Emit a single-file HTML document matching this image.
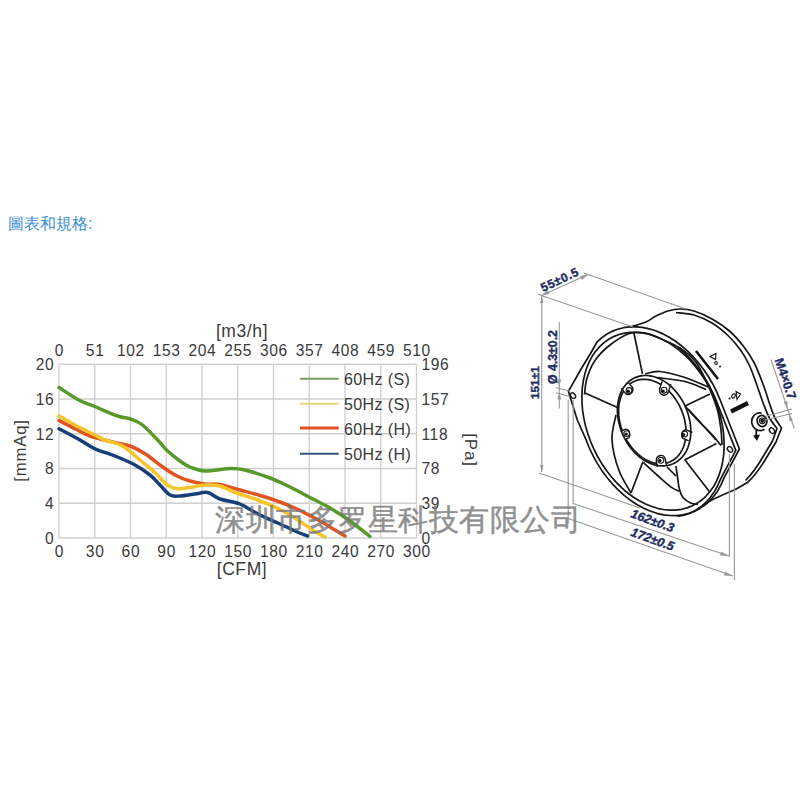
<!DOCTYPE html>
<html><head><meta charset="utf-8">
<style>
html,body{margin:0;padding:0;background:#fff;}
body{width:800px;height:800px;position:relative;overflow:hidden;font-family:"Liberation Sans",sans-serif;}
#title{position:absolute;white-space:nowrap;left:7.9px;top:214.1px;font-size:15.9px;color:#3a8fd4;}
svg{position:absolute;left:0;top:0;}
</style></head><body>
<div id="title">圖表和規格:</div>
<svg width="800" height="800" viewBox="0 0 800 800">
<path d="M59.00 364.25V538.0 M94.75 364.25V538.0 M130.50 364.25V538.0 M166.25 364.25V538.0 M202.00 364.25V538.0 M237.75 364.25V538.0 M273.50 364.25V538.0 M309.25 364.25V538.0 M345.00 364.25V538.0 M380.75 364.25V538.0 M416.50 364.25V538.0 M59 364.25H416.5 M59 399.00H416.5 M59 433.75H416.5 M59 468.50H416.5 M59 503.25H416.5 M59 538.00H416.5" stroke="#cfcfcf" stroke-width="1.3" fill="none"/>
<path d="M59.0 387.5 C62.3 389.6 72.8 396.8 78.8 400.0 C84.7 403.2 88.3 403.8 94.8 406.5 C101.2 409.2 111.5 413.9 117.5 416.0 C123.5 418.1 126.3 417.5 130.5 419.0 C134.7 420.5 137.6 421.1 142.5 425.0 C147.4 428.9 156.0 438.3 160.0 442.5 C164.0 446.7 163.2 446.9 166.5 450.0 C169.8 453.1 176.1 458.2 180.0 461.0 C183.9 463.8 185.8 465.3 190.0 467.0 C194.2 468.7 198.3 470.8 205.0 471.0 C211.7 471.2 223.3 468.7 230.0 468.5 C236.7 468.3 238.3 468.4 245.0 470.0 C251.7 471.6 262.5 475.2 270.0 478.0 C277.5 480.8 283.3 483.8 290.0 487.0 C296.7 490.2 303.3 494.0 310.0 497.5 C316.7 501.0 323.3 504.1 330.0 508.0 C336.7 511.9 343.3 516.2 350.0 521.0 C356.7 525.8 366.7 533.9 370.0 536.5" stroke="#579a2a" stroke-width="3.5" fill="none" stroke-linecap="round" stroke-linejoin="round"/>
<path d="M59.0 420.5 C61.7 421.9 69.8 426.2 75.0 428.8 C80.2 431.3 83.3 433.7 90.0 436.0 C96.7 438.3 108.3 440.8 115.0 442.5 C121.7 444.2 125.0 444.1 130.0 446.0 C135.0 447.9 140.0 450.6 145.0 453.8 C150.0 456.9 155.0 461.5 160.0 465.0 C165.0 468.5 170.0 472.3 175.0 475.0 C180.0 477.7 185.0 479.5 190.0 481.0 C195.0 482.5 200.0 483.4 205.0 484.0 C210.0 484.6 214.2 483.5 220.0 484.5 C225.8 485.5 233.3 488.2 240.0 490.0 C246.7 491.8 253.3 493.5 260.0 495.5 C266.7 497.5 273.3 499.5 280.0 502.0 C286.7 504.5 293.3 507.3 300.0 510.5 C306.7 513.7 314.2 517.8 320.0 521.0 C325.8 524.2 330.8 527.5 335.0 530.0 C339.2 532.5 343.3 535.0 345.0 536.0" stroke="#e2531f" stroke-width="3.5" fill="none" stroke-linecap="round" stroke-linejoin="round"/>
<path d="M59.0 416.0 C61.7 417.5 69.0 421.8 75.0 425.0 C81.0 428.2 89.8 432.5 94.8 435.0 C99.8 437.5 101.6 438.7 105.0 440.0 C108.4 441.3 111.7 441.8 115.0 443.0 C118.3 444.2 120.8 444.7 125.0 447.5 C129.2 450.3 135.0 455.8 140.0 460.0 C145.0 464.2 150.4 468.3 155.0 472.5 C159.6 476.7 163.8 482.3 167.5 485.0 C171.2 487.7 173.8 488.3 177.5 488.8 C181.2 489.2 185.4 488.1 190.0 487.5 C194.6 486.9 200.0 485.2 205.0 485.0 C210.0 484.8 215.0 484.8 220.0 486.0 C225.0 487.2 229.2 490.3 235.0 492.5 C240.8 494.7 247.5 496.2 255.0 499.0 C262.5 501.8 272.5 505.8 280.0 509.5 C287.5 513.2 294.2 517.8 300.0 521.5 C305.8 525.2 310.8 528.9 315.0 531.5 C319.2 534.1 323.3 536.1 325.0 537.0" stroke="#f6c52a" stroke-width="3.5" fill="none" stroke-linecap="round" stroke-linejoin="round"/>
<path d="M59.0 428.8 C62.5 430.6 74.0 436.7 80.0 440.0 C86.0 443.3 89.2 446.1 95.0 448.8 C100.8 451.4 108.3 453.3 115.0 456.0 C121.7 458.7 129.2 461.8 135.0 465.0 C140.8 468.2 145.8 471.7 150.0 475.0 C154.2 478.3 156.7 481.7 160.0 485.0 C163.3 488.3 166.7 493.2 170.0 495.0 C173.3 496.8 175.8 496.2 180.0 496.0 C184.2 495.8 190.4 494.6 195.0 494.0 C199.6 493.4 203.3 491.7 207.5 492.5 C211.7 493.3 214.6 497.1 220.0 499.0 C225.4 500.9 233.3 501.3 240.0 504.0 C246.7 506.7 253.3 511.7 260.0 515.0 C266.7 518.3 274.2 521.3 280.0 524.0 C285.8 526.7 290.4 529.0 295.0 531.0 C299.6 533.0 305.4 535.2 307.5 536.0" stroke="#163f7a" stroke-width="3.5" fill="none" stroke-linecap="round" stroke-linejoin="round"/>
<path d="M300 378.75H338.75" stroke="#7d9a5e" stroke-width="2" />
<path d="M300 403.75H338.75" stroke="#eada7a" stroke-width="2" />
<path d="M300 428H338.75" stroke="#e2531f" stroke-width="3" />
<path d="M300 453.75H338.75" stroke="#36557a" stroke-width="2" />
<g font-family="Liberation Sans, sans-serif" fill="#3a3a3a" font-size="16" letter-spacing="0.4">
<text x="344" y="385">60Hz (S)</text>
<text x="344" y="410">50Hz (S)</text>
<text x="344" y="435">60Hz (H)</text>
<text x="344" y="460">50Hz (H)</text>
</g>
<g font-family="Liberation Sans, sans-serif" fill="#3a3a3a" font-size="17.3">
<text transform="translate(59.40,355.60) scale(0.9,1)" text-anchor="middle" letter-spacing="0.7">0</text>
<text transform="translate(95.15,355.60) scale(0.9,1)" text-anchor="middle" letter-spacing="0.7">51</text>
<text transform="translate(130.90,355.60) scale(0.9,1)" text-anchor="middle" letter-spacing="0.7">102</text>
<text transform="translate(166.65,355.60) scale(0.9,1)" text-anchor="middle" letter-spacing="0.7">153</text>
<text transform="translate(202.40,355.60) scale(0.9,1)" text-anchor="middle" letter-spacing="0.7">204</text>
<text transform="translate(238.15,355.60) scale(0.9,1)" text-anchor="middle" letter-spacing="0.7">255</text>
<text transform="translate(273.90,355.60) scale(0.9,1)" text-anchor="middle" letter-spacing="0.7">306</text>
<text transform="translate(309.65,355.60) scale(0.9,1)" text-anchor="middle" letter-spacing="0.7">357</text>
<text transform="translate(345.40,355.60) scale(0.9,1)" text-anchor="middle" letter-spacing="0.7">408</text>
<text transform="translate(381.15,355.60) scale(0.9,1)" text-anchor="middle" letter-spacing="0.7">459</text>
<text transform="translate(416.90,355.60) scale(0.9,1)" text-anchor="middle" letter-spacing="0.7">510</text>
<text transform="translate(59.40,557.30) scale(0.9,1)" text-anchor="middle" letter-spacing="0.7">0</text>
<text transform="translate(95.15,557.30) scale(0.9,1)" text-anchor="middle" letter-spacing="0.7">30</text>
<text transform="translate(130.90,557.30) scale(0.9,1)" text-anchor="middle" letter-spacing="0.7">60</text>
<text transform="translate(166.65,557.30) scale(0.9,1)" text-anchor="middle" letter-spacing="0.7">90</text>
<text transform="translate(202.40,557.30) scale(0.9,1)" text-anchor="middle" letter-spacing="0.7">120</text>
<text transform="translate(238.15,557.30) scale(0.9,1)" text-anchor="middle" letter-spacing="0.7">150</text>
<text transform="translate(273.90,557.30) scale(0.9,1)" text-anchor="middle" letter-spacing="0.7">180</text>
<text transform="translate(309.65,557.30) scale(0.9,1)" text-anchor="middle" letter-spacing="0.7">210</text>
<text transform="translate(345.40,557.30) scale(0.9,1)" text-anchor="middle" letter-spacing="0.7">240</text>
<text transform="translate(381.15,557.30) scale(0.9,1)" text-anchor="middle" letter-spacing="0.7">270</text>
<text transform="translate(416.90,557.30) scale(0.9,1)" text-anchor="middle" letter-spacing="0.7">300</text>
<text transform="translate(54.20,370.15) scale(0.9,1)" text-anchor="end" letter-spacing="0.7">20</text>
<text transform="translate(54.20,404.90) scale(0.9,1)" text-anchor="end" letter-spacing="0.7">16</text>
<text transform="translate(54.20,439.65) scale(0.9,1)" text-anchor="end" letter-spacing="0.7">12</text>
<text transform="translate(54.20,474.40) scale(0.9,1)" text-anchor="end" letter-spacing="0.7">8</text>
<text transform="translate(54.20,509.15) scale(0.9,1)" text-anchor="end" letter-spacing="0.7">4</text>
<text transform="translate(54.20,543.90) scale(0.9,1)" text-anchor="end" letter-spacing="0.7">0</text>
<text transform="translate(421.50,370.15) scale(0.9,1)" text-anchor="start" letter-spacing="0.7">196</text>
<text transform="translate(421.50,404.90) scale(0.9,1)" text-anchor="start" letter-spacing="0.7">157</text>
<text transform="translate(421.50,439.65) scale(0.9,1)" text-anchor="start" letter-spacing="0.7">118</text>
<text transform="translate(421.50,474.40) scale(0.9,1)" text-anchor="start" letter-spacing="0.7">78</text>
<text transform="translate(421.50,509.15) scale(0.9,1)" text-anchor="start" letter-spacing="0.7">39</text>
<text transform="translate(421.50,543.90) scale(0.9,1)" text-anchor="start" letter-spacing="0.7">0</text>
</g>
<g font-family="Liberation Sans, sans-serif" fill="#3a3a3a">
<text x="242" y="336.5" font-size="17.5" letter-spacing="0.6" text-anchor="middle">[m3/h]</text>
<text x="242" y="575" font-size="17.5" letter-spacing="0.6" text-anchor="middle">[CFM]</text>
</g>
<text transform="translate(26,450.5) rotate(-90)" text-anchor="middle" font-family="Liberation Sans, sans-serif" fill="#3a3a3a" font-size="16.8" letter-spacing="0.8">[mmAq]</text>
<text transform="translate(465,450) rotate(90)" text-anchor="middle" font-family="Liberation Sans, sans-serif" fill="#3a3a3a" font-size="17" letter-spacing="0.8">[Pa]</text>
<g fill="none" stroke="#161616" stroke-width="1.7" stroke-linejoin="round"><path d="M597.0 342.0 L601.6 337.9 L606.6 334.3 L611.9 331.4 L617.6 329.2 L623.5 327.7 L629.7 326.9 L636.0 326.8 L642.5 327.4 L649.1 328.8 L655.7 330.8 L662.2 333.6 L668.8 337.0 L675.2 341.0 L681.4 345.7 L687.4 350.9 L693.2 356.7 L698.7 363.0 L703.8 369.7 L708.5 376.7 L712.9 384.2 L716.7 391.9 L720.1 399.8 L739.4 449.0 L724.0 477.9 L721.2 484.4 L718.0 490.4 L714.2 495.8 L709.9 500.6 L705.2 504.8 L700.1 508.4 L694.7 511.3 L688.9 513.4 L682.8 514.9 L676.6 515.6 L670.1 515.5 L663.5 514.8 L656.8 513.3 L650.1 511.0 L643.4 508.1 L636.8 504.5 L630.4 500.2 L624.1 495.3 L618.1 489.8 L612.3 483.8 L606.8 477.3 L601.8 470.4 L597.1 463.1 L592.9 455.4 L589.1 447.5 L585.9 439.3 L577.3 420.0 L568.4 391.3 L580.8 369.5 L590.5 353.5 Z"/><path d="M677.8 347.1 L683.8 352.3 L689.6 358.1 L695.1 364.4 L700.2 371.1 L704.9 378.1 L709.3 385.6 L713.1 393.3 L716.5 401.2 L735.8 450.4 L720.4 479.3 L717.5 486.0 L714.1 492.1 L710.2 497.6 L705.8 502.5 L700.9 506.8 L695.6 510.3 L690.0 513.2 L683.9 515.2 L677.6 516.5"/><path d="M692.3 505.8 L687.0 507.9 L681.4 509.3 L675.6 510.1 L669.6 510.1 L663.5 509.5 L657.4 508.3 L651.2 506.3 L645.0 503.7 L638.8 500.5 L632.8 496.7 L626.9 492.3 L621.3 487.4 L615.8 481.9 L610.7 476.0 L605.9 469.7 L601.4 463.0 L597.3 456.0 L593.7 448.7 L590.5 441.3 L587.8 433.6 L585.5 425.9 L583.8 418.1 L582.6 410.4 L582.0 402.7 L581.9 395.2 L582.3 387.9 L583.3 380.8 L584.8 374.1 L586.8 367.7 L589.3 361.7 L592.3 356.1 L595.8 351.1 L599.7 346.6 L604.0 342.6 L608.7 339.3 L613.7 336.6 L619.0 334.5 L624.6 333.1 L630.4 332.3 L636.4 332.3 L642.5 332.9 L648.6 334.1 L654.8 336.1 L661.0 338.7 L667.2 341.9 L673.2 345.7 L679.1 350.1 L684.7 355.0 L690.2 360.5 L695.3 366.4 L700.1 372.7 L704.6 379.4 L708.7 386.4 L712.3 393.7 L715.5 401.1 L718.2 408.8 L720.5 416.5 L722.2 424.3 L723.4 432.0 L724.0 439.7 L724.1 447.2 L723.7 454.5 L722.7 461.6 L721.2 468.3 L719.2 474.7 L716.7 480.7 L713.7 486.3 L710.2 491.3 L706.3 495.8 L702.0 499.8 L697.3 503.1 L692.3 505.8Z"/><path d="M584.5 394.5 C584.9 391.8 585.2 383.7 587.0 378.0 C588.8 372.3 591.2 366.0 595.0 360.5 C598.8 355.0 604.2 349.5 610.0 345.0 C615.8 340.5 623.7 335.5 629.5 333.5 C635.3 331.5 639.9 332.2 645.0 333.0 C650.1 333.8 654.2 336.0 660.0 338.5 C665.8 341.0 674.2 344.2 680.0 348.0 C685.8 351.8 691.0 356.2 695.0 361.0 C699.0 365.8 701.2 370.9 704.0 376.5 C706.8 382.1 709.7 388.6 712.0 394.5 C714.3 400.4 716.5 406.1 718.0 412.0 C719.5 417.9 720.3 424.5 721.0 430.0 C721.7 435.5 721.8 442.5 722.0 445.0"/><ellipse cx="573" cy="395.7" rx="3.1" ry="2.2" transform="rotate(50 573 395.7)" stroke-width="1.4"/><ellipse cx="730" cy="449.4" rx="3.1" ry="2.2" transform="rotate(50 730 449.4)" stroke-width="1.4"/><ellipse cx="772" cy="430.7" rx="3.1" ry="2.2" transform="rotate(50 772 430.7)" stroke-width="1.4"/><path d="M630.0 327.0 C632.7 326.2 641.7 323.8 646.0 322.0 C650.3 320.2 652.3 317.8 656.0 316.0 C659.7 314.2 664.0 312.2 668.0 311.0 C672.0 309.8 675.7 309.0 680.0 309.0 C684.3 309.0 688.7 309.3 694.0 311.0 C699.3 312.7 706.0 315.6 712.0 319.0 C718.0 322.4 724.7 326.8 730.0 331.5 C735.3 336.2 740.0 341.8 744.0 347.0 C748.0 352.2 750.8 356.3 754.0 362.5 C757.2 368.7 760.3 376.9 763.0 384.0 C765.7 391.1 768.0 399.3 770.0 405.0 C772.0 410.7 773.1 414.2 775.0 418.0 C776.9 421.8 780.4 426.3 781.5 428.0 L776 442 L767.5 456 Q757 474 747.5 482.5 Q736 490 722.5 495 Q713 499 705 503.75"/><path d="M676.0 312.5 C679.0 312.9 688.0 313.2 694.0 315.0 C700.0 316.8 706.3 319.6 712.0 323.0 C717.7 326.4 723.2 331.0 728.0 335.5 C732.8 340.0 737.0 345.2 740.5 350.0 C744.0 354.8 746.3 358.8 749.0 364.5 C751.7 370.2 754.1 377.4 756.5 384.0 C758.9 390.6 761.3 398.3 763.5 404.0 C765.7 409.7 767.2 413.9 769.5 418.0 C771.8 422.1 775.8 426.8 777.0 428.5 L772.5 441 L764 455 Q755 471 745.5 480.5"/><path d="M670.1 461.8 L667.5 462.8 L664.9 463.4 L662.1 463.7 L659.2 463.7 L656.3 463.4 L653.4 462.8 L650.5 461.8 L647.5 460.5 L644.6 459.0 L641.8 457.1 L639.0 455.0 L636.4 452.6 L633.9 450.0 L631.5 447.2 L629.2 444.1 L627.2 440.9 L625.3 437.6 L623.7 434.1 L622.2 430.6 L621.0 426.9 L620.0 423.3 L619.3 419.6 L618.8 415.9 L618.6 412.3 L618.6 408.7 L618.9 405.2 L619.5 401.9 L620.3 398.7 L621.3 395.7 L622.6 392.9 L624.1 390.3 L625.8 387.9 L627.7 385.8 L629.8 384.0 L632.1 382.4 L634.5 381.2 L637.1 380.2 L639.7 379.6 L642.5 379.3 L645.4 379.3 L648.3 379.6 L651.2 380.2 L654.1 381.2 L657.1 382.5 L660.0 384.0 L662.8 385.9 L665.6 388.0 L668.2 390.4 L670.7 393.0 L673.1 395.8 L675.4 398.9 L677.4 402.1 L679.3 405.4 L680.9 408.9 L682.4 412.4 L683.6 416.1 L684.6 419.7 L685.3 423.4 L685.8 427.1 L686.0 430.7 L686.0 434.3 L685.7 437.8 L685.1 441.1 L684.3 444.3 L683.3 447.3 L682.0 450.1 L680.5 452.7 L678.8 455.1 L676.9 457.2 L674.8 459.0 L672.5 460.6 L670.1 461.8Z"/><path d="M628.4 382.6 L632.7 387.8 A4.6 5.3 0 0 1 625.7 393.6 L621.3 388.4" fill="#fff" stroke-width="1.4"/><circle cx="629.0" cy="390.5" r="2.9" stroke-width="1.1"/><circle cx="628.4" cy="391.2" r="1.6" fill="#111" stroke="none"/><path d="M670.9 384.1 L668.4 391.9 A4.6 5.3 0 0 1 659.6 389.1 L662.2 381.2" fill="#fff" stroke-width="1.4"/><circle cx="664.1" cy="390.2" r="2.9" stroke-width="1.1"/><circle cx="663.2" cy="391.0" r="1.6" fill="#111" stroke="none"/><path d="M621.0 431.3 L625.0 429.3 A4.6 5.3 0 0 1 629.0 437.7 L624.9 439.6" fill="#fff" stroke-width="1.4"/><circle cx="626.7" cy="433.6" r="2.9" stroke-width="1.1"/><circle cx="626.2" cy="434.0" r="1.6" fill="#111" stroke="none"/><path d="M688.7 440.9 L682.6 438.2 A4.6 5.3 0 0 1 686.2 429.8 L692.4 432.5" fill="#fff" stroke-width="1.4"/><circle cx="684.7" cy="434.1" r="2.9" stroke-width="1.1"/><circle cx="683.6" cy="434.5" r="1.6" fill="#111" stroke="none"/><path d="M657.3 466.9 L656.3 460.8 A4.6 5.3 0 0 1 665.3 459.2 L666.4 465.4" fill="#fff" stroke-width="1.4"/><circle cx="660.9" cy="460.3" r="2.9" stroke-width="1.1"/><circle cx="660.0" cy="460.5" r="1.6" fill="#111" stroke="none"/><path d="M673.1 463.8 L670.3 464.8 L667.4 465.5 L664.3 465.9 L661.2 465.9 L658.1 465.6 L654.9 464.9 L651.7 463.9 L648.5 462.6 L645.3 461.0 L642.3 459.0 L639.3 456.8 L636.4 454.2 L633.7 451.5 L631.1 448.4 L628.7 445.2 L626.5 441.8 L624.5 438.2 L622.7 434.5 L621.2 430.7 L619.9 426.8 L618.9 422.9 L618.1 419.0 L617.6 415.0 L617.4 411.1 L617.5 407.3 L617.8 403.6 L618.5 400.0 L619.4 396.6 L620.5 393.3 L621.9 390.3 L623.6 387.5 L625.5 384.9 L627.6 382.7 L629.9 380.7 L632.4 379.0 L635.1 377.6 L637.9 376.6 L640.8 375.9 L643.9 375.5 L647.0 375.5 L650.1 375.8 L653.3 376.5 L656.5 377.5 L659.7 378.8 L662.9 380.4 L665.9 382.4 L668.9 384.6 L671.8 387.2 L674.5 389.9 L677.1 393.0 L679.5 396.2 L681.7 399.6 L683.7 403.2 L685.5 406.9 L687.0 410.7 L688.3 414.6 L689.3 418.5 L690.1 422.4 L690.6 426.4 L690.8 430.3 L690.7 434.1 L690.4 437.8 L689.7 441.4 L688.8 444.8 L687.7 448.1 L686.3 451.1 L684.6 453.9 L682.7 456.5 L680.6 458.7 L678.3 460.7 L675.8 462.4 L673.1 463.8Z"/><path d="M633.8 332.5 L642.5 374.0"/><path d="M645.0 374.0 C647.5 373.6 653.3 370.9 660.0 371.5 C666.7 372.1 677.0 374.9 685.0 377.5 C693.0 380.1 704.2 385.4 708.0 387.0"/><path d="M657.0 377.5 C661.7 378.2 676.8 379.5 685.0 381.5 C693.2 383.5 702.5 388.2 706.0 389.5"/><path d="M685.0 406.0 L710.0 394.0"/><path d="M685.0 406.0 C687.1 408.3 692.9 415.2 697.5 420.0 C702.1 424.8 708.6 430.8 712.5 435.0 C716.4 439.2 719.6 443.8 721.0 445.5"/><path d="M688.0 409.0 C690.0 411.2 695.3 416.8 700.0 422.0 C704.7 427.2 713.3 437.0 716.0 440.0"/><path d="M684.5 460.0 L716.5 443.5"/><path d="M685.0 460.0 L709.7 492.0"/><path d="M676.0 466.0 C676.2 467.8 676.9 473.1 677.5 477.0 C678.1 480.9 678.6 486.1 679.5 489.5 C680.4 492.9 681.1 495.2 683.0 497.5 C684.9 499.8 688.1 501.8 690.6 503.0 C693.1 504.2 696.8 504.2 698.0 504.5"/><path d="M667.0 467.0 L676.0 476.0"/><path d="M643.4 462.6 C645.7 464.7 652.3 470.9 657.0 475.0 C661.7 479.1 667.8 484.7 671.5 487.4 C675.2 490.1 678.1 490.6 679.4 491.3"/><path d="M643.0 461.5 L631.0 493.0"/><path d="M616.0 415.0 C615.3 419.2 611.5 430.8 612.0 440.0 C612.5 449.2 615.6 461.2 618.8 470.0 C621.9 478.8 629.0 489.2 631.0 493.0"/><path d="M617.5 407.5 L585.0 393.0"/><path d="M761.5 413.2 A8.2 8.8 -15 1 0 764.5 429.2"/><ellipse cx="762" cy="421" rx="4.8" ry="5.6" transform="rotate(-15 762 421)"/><circle cx="762.3" cy="420.8" r="2.8" stroke-width="1.2"/><circle cx="762.3" cy="420.8" r="1.1" fill="#111"/></g>
<path d="M696 351 L718 379" stroke="#111" stroke-width="2.6" fill="none"/>
<path d="M731 411.5 L748 403" stroke="#111" stroke-width="4.2" fill="none"/>
<g fill="none" stroke="#111" stroke-width="1.1">
<path d="M710 356.5 L716 353.5 L715.5 359.5 Z"/><ellipse cx="716" cy="363" rx="1.3" ry="1.5"/>
<ellipse cx="733.5" cy="396" rx="1.6" ry="2.2" transform="rotate(30 733.5 396)"/><path d="M736 391.5 L740.5 394 L737 399.5 Z"/>
</g>
<circle cx="720" cy="366.5" r="1" fill="#111"/><circle cx="729.5" cy="398.5" r="1" fill="#111"/>
<path d="M756.5 430 L756 436" stroke="#111" stroke-width="1.8" fill="none"/><path d="M753 435.5 L760 434.5 L757 441 Z" fill="#111"/>
<path d="M541.5 295.5 L588 274.5 M538 294 L545 297 M584 273 L591 276 M541.5 295.5 L633 327 M588 274.5 L686 309 M541.75 295.5 V472 M559.3 322 V408.5 M556 387.5 L569.5 391 M556 392.7 L569.5 396.5 M568.2 400 V524 M573.2 400 V504 M539 473 L640 508 M573.2 503.5 L729 556 M568.2 518.6 L733 576 M729.4 454 V557 M734.4 464 V580 M771 359.5 L794.2 428.5 M765 416.5 L792 409 M765 420 L792 413.5" stroke="#999" stroke-width="1.1" fill="none"/>
<g fill="#999"><path d="M541.75 296 L540 303 L543.5 303 Z"/><path d="M541.75 472 L540 465 L543.5 465 Z"/><path d="M729 556 L721 551.5 L720 555.5 Z"/><path d="M733 576 L725 571.5 L724 575.5 Z"/><path d="M588 274.5 L580 276 L582 280 Z"/><path d="M541.5 295.5 L549.5 294 L547.5 290 Z"/><path d="M559.3 386.5 L557.3 379.5 L561.3 379.5 Z"/><path d="M559.3 392.5 L557.3 399.5 L561.3 399.5 Z"/><path d="M787.5 408.5 L783.6 402 L787.5 401 Z"/><path d="M789 414.5 L789.5 421.5 L793 420 Z"/></g>
<text transform="translate(543,292) rotate(-25)" fill="#1f2d62" stroke="#1f2d62" stroke-width="0.4" font-family="Liberation Sans, sans-serif" font-weight="bold" font-size="12" letter-spacing="0.7">55±0.5</text>
<text transform="translate(538.5,399) rotate(-90)" fill="#1f2d62" stroke="#1f2d62" stroke-width="0.4" font-family="Liberation Sans, sans-serif" font-weight="bold" font-size="11.8">151±1</text>
<text transform="translate(557,384) rotate(-90)" fill="#1f2d62" stroke="#1f2d62" stroke-width="0.4" font-family="Liberation Sans, sans-serif" font-weight="bold" font-size="12.3">Ø 4.3±0.2</text>
<text transform="translate(630,517) rotate(20)" fill="#1f2d62" stroke="#1f2d62" stroke-width="0.4" font-family="Liberation Sans, sans-serif" font-weight="bold" font-size="12.5" font-style="italic">162±0.3</text>
<text transform="translate(630,535.5) rotate(20)" fill="#1f2d62" stroke="#1f2d62" stroke-width="0.4" font-family="Liberation Sans, sans-serif" font-weight="bold" font-size="12.5" font-style="italic">172±0.5</text>
<text transform="translate(774.5,360) rotate(71)" fill="#1f2d62" stroke="#1f2d62" stroke-width="0.4" font-family="Liberation Sans, sans-serif" font-weight="bold" font-size="12.6">M4×0.7</text>
<g opacity="0.8"><text x="215" y="530" font-size="30" font-weight="500" fill="#757575" stroke="#757575" stroke-width="0.45" font-family="Liberation Sans, sans-serif" letter-spacing="0.55">深圳市多罗星科技有限公司</text></g>
</svg>
</body></html>
